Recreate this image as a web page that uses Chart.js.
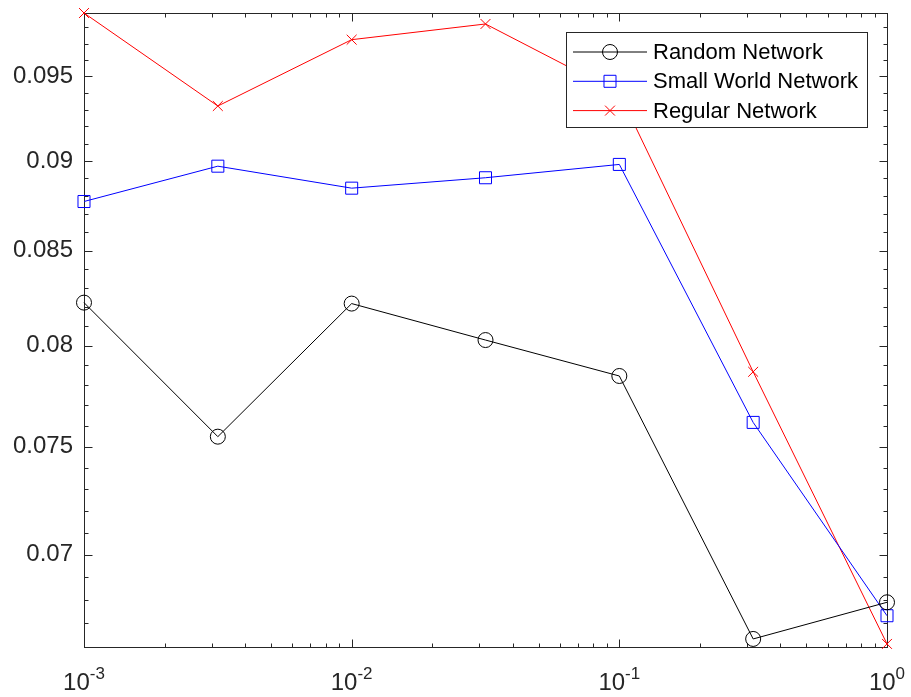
<!DOCTYPE html>
<html>
<head>
<meta charset="utf-8">
<script src="https://cdn.jsdelivr.net/npm/chart.js@4.4.0/dist/chart.umd.min.js"></script>
<style>
  html, body { margin: 0; padding: 0; background: #fff; }
  #wrap { width: 911px; height: 697px; }
</style>
</head>
<body>
<div id="wrap"><canvas id="chart"></canvas></div>
<script>
// x is log-spaced: 10^-3 ... 10^0 in half decades
const xValues = [0.001, 0.0031623, 0.01, 0.031623, 0.1, 0.31623, 1];
const randomNet = [0.08222, 0.07548, 0.08217, 0.08028, 0.07846, 0.06634, 0.06791];
const smallWorldNet = [0.08770, 0.08970, 0.08845, 0.08904, 0.08980, 0.07617, 0.06733];
const regularNet = [0.09891, 0.09321, 0.09724, 0.09822, 0.09398, 0.07867, 0.06613];
const seriesNames = ["Random Network", "Small World Network", "Regular Network"];
const yTickValues = [0.07, 0.075, 0.08, 0.085, 0.09, 0.095];
const xDecades = [-3, -2, -1, 0];

const Y_MIN = 0.06613, Y_MAX = 0.09891;
const AXIS_COLOR = "#262626";
const FONT = "'Liberation Sans', Arial, sans-serif";

const toPoints = vals => vals.map((v, i) => ({ x: xValues[i], y: v }));

const seriesStyle = [
  { color: "#000000", pointStyle: "circle", radius: 7.5 },
  { color: "#0000ff", pointStyle: "rect", radius: 8.5 },
  { color: "#ff0000", pointStyle: "crossRot", radius: 7 }
];

const datasets = [randomNet, smallWorldNet, regularNet].map((vals, i) => ({
  label: seriesNames[i],
  data: toPoints(vals),
  borderColor: seriesStyle[i].color,
  borderWidth: 1,
  pointStyle: seriesStyle[i].pointStyle,
  pointRadius: seriesStyle[i].radius,
  pointBorderColor: seriesStyle[i].color,
  pointBackgroundColor: "rgba(0,0,0,0)",
  pointBorderWidth: 1,
  tension: 0,
  clip: false
}));

// MATLAB style box with inward ticks on all four sides
const axesBox = {
  id: "axesBox",
  beforeDatasetsDraw(chart) {
    const { ctx, chartArea: a, scales: { x, y } } = chart;
    const L = Math.round(a.left) + 0.5, R = Math.round(a.right) + 0.5;
    const T = Math.round(a.top) + 0.5, B = Math.round(a.bottom) + 0.5;
    ctx.save();
    ctx.strokeStyle = AXIS_COLOR;
    ctx.lineWidth = 1;
    ctx.beginPath();
    // x ticks
    for (let e = -3; e <= 0; e++) {
      for (let m = 1; m <= 9; m++) {
        const v = m * Math.pow(10, e);
        if (v > 1.0001) break;
        const px = Math.round(x.getPixelForValue(v)) + 0.5;
        const len = m === 1 ? 8 : 4;
        ctx.moveTo(px, B); ctx.lineTo(px, B - len);
        ctx.moveTo(px, T); ctx.lineTo(px, T + len);
      }
    }
    // y ticks, minor every 0.001
    for (let k = 66; k <= 99; k++) {
      const v = k / 1000;
      if (v < Y_MIN || v > Y_MAX) continue;
      const py = Math.round(y.getPixelForValue(v)) + 0.5;
      const len = k % 5 === 0 ? 8 : 4;
      ctx.moveTo(L, py); ctx.lineTo(L + len, py);
      ctx.moveTo(R, py); ctx.lineTo(R - len, py);
    }
    ctx.stroke();
    ctx.strokeRect(L, T, R - L, B - T);
    ctx.restore();
  },
  afterDatasetsDraw(chart) {
    // legend box, upper right
    const { ctx } = chart;
    const bx = 566.5, by = 32.5, bw = 301, bh = 95;
    ctx.save();
    ctx.fillStyle = "#fff";
    ctx.fillRect(bx, by, bw, bh);
    ctx.strokeStyle = AXIS_COLOR;
    ctx.lineWidth = 1;
    ctx.strokeRect(bx, by, bw, bh);
    ctx.font = "22px " + FONT;
    ctx.textBaseline = "middle";
    ctx.textAlign = "left";
    chart.data.datasets.forEach((ds, i) => {
      const ry = 52 + i * 29.3;
      ctx.strokeStyle = ds.borderColor;
      ctx.beginPath();
      ctx.moveTo(573, ry); ctx.lineTo(647, ry);
      ctx.stroke();
      ctx.fillStyle = "rgba(0,0,0,0)";
      Chart.helpers.drawPoint(ctx, {
        pointStyle: ds.pointStyle, radius: ds.pointRadius, rotation: 0, borderWidth: 1
      }, 610, ry);
      ctx.fillStyle = "#000";
      ctx.fillText(ds.label, 653, ry + 1);
    });
    ctx.restore();
  },
  afterDraw(chart) {
    // x tick labels as 10^n with superscript
    const { ctx, scales: { x } } = chart;
    ctx.save();
    ctx.fillStyle = AXIS_COLOR;
    ctx.textBaseline = "alphabetic";
    ctx.textAlign = "left";
    xDecades.forEach(e => {
      const px = x.getPixelForValue(Math.pow(10, e));
      ctx.font = "24px " + FONT;
      const wBase = ctx.measureText("10").width;
      ctx.font = "17px " + FONT;
      const sup = String(e);
      const wSup = ctx.measureText(sup).width;
      const start = px - (wBase + wSup) / 2;
      ctx.font = "24px " + FONT;
      ctx.fillText("10", start, 690);
      ctx.font = "17px " + FONT;
      ctx.fillText(sup, start + wBase, 679);
    });
    ctx.restore();
  }
};

new Chart(document.getElementById("chart"), {
  type: "line",
  data: { datasets },
  plugins: [axesBox],
  options: {
    responsive: true,
    maintainAspectRatio: false,
    animation: false,
    layout: { padding: { top: 13, right: 24, left: 0, bottom: 0 } },
    plugins: { legend: { display: false }, tooltip: { enabled: false } },
    scales: {
      x: {
        type: "logarithmic",
        min: 0.001,
        max: 1,
        grid: { display: false, drawTicks: false },
        border: { display: false },
        ticks: { display: false },
        afterFit: s => { s.height = 50; s.paddingLeft = 0; s.paddingRight = 0; }
      },
      y: {
        type: "logarithmic",
        min: Y_MIN,
        max: Y_MAX,
        grid: { display: false, drawTicks: false },
        border: { display: false },
        afterBuildTicks: s => { s.ticks = yTickValues.map(v => ({ value: v })); },
        ticks: {
          color: AXIS_COLOR,
          padding: 11,
          font: { family: FONT, size: 24 },
          callback: v => String(+Number(v).toFixed(3))
        },
        afterFit: s => { s.width = 84; s.paddingTop = 0; s.paddingBottom = 0; }
      }
    }
  }
});
</script>
</body>
</html>
